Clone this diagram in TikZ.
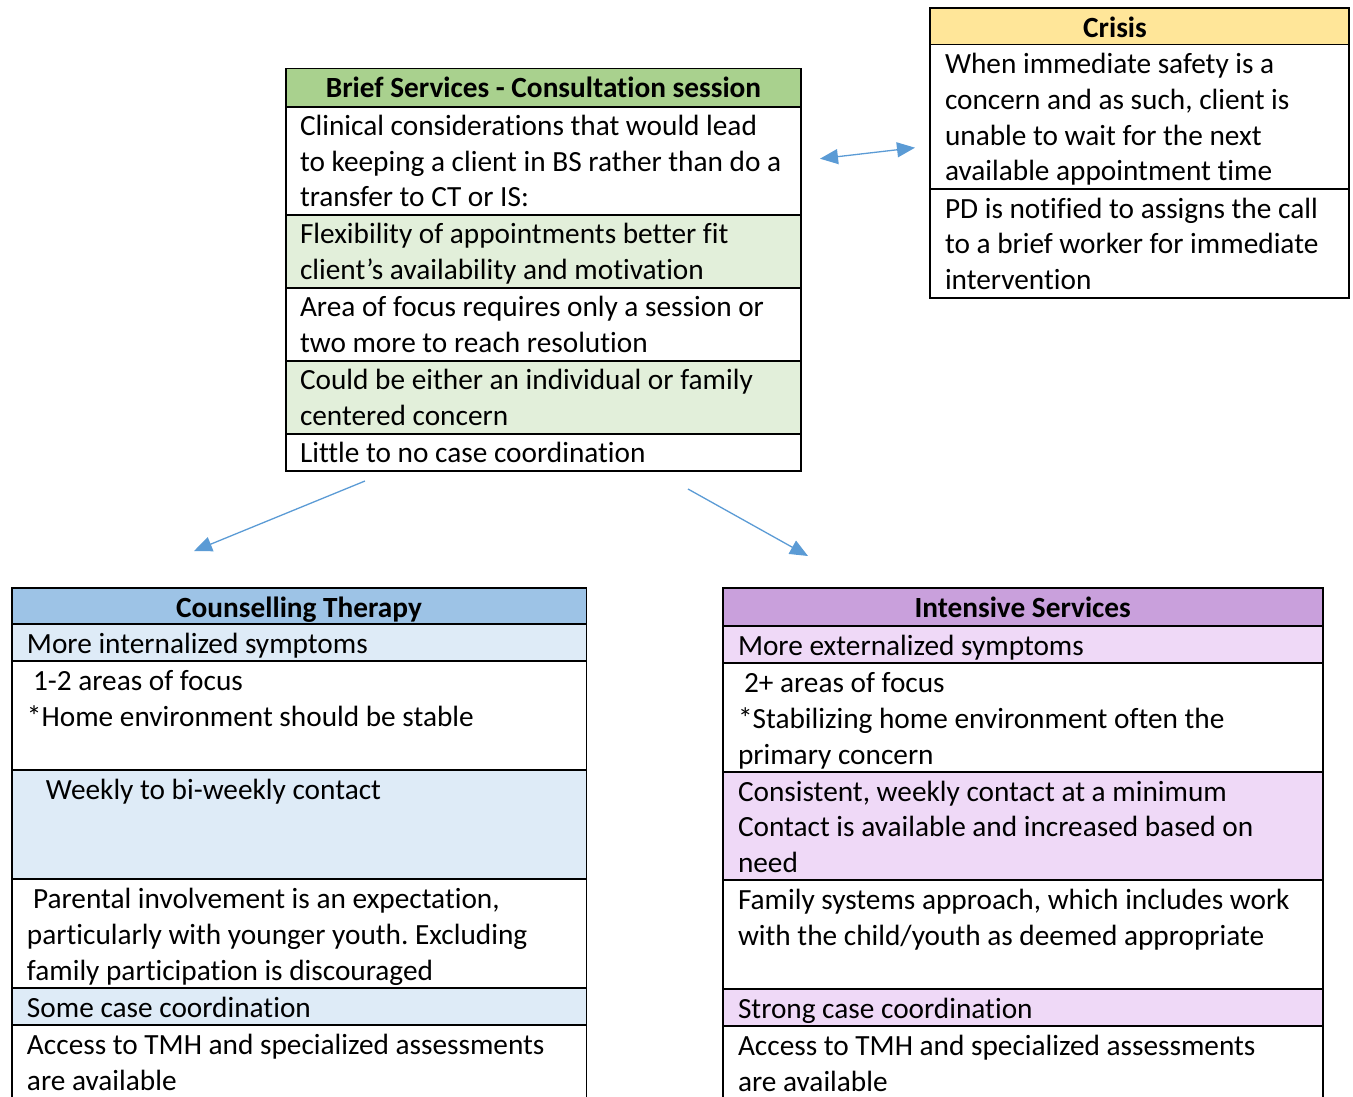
\documentclass[tikz,border=0pt]{standalone}
\usepackage{fontspec}
\setmainfont{Carlito}[Ligatures={NoCommon}]
\usetikzlibrary{arrows.meta}
\definecolor{bsHead}{HTML}{A9D18E}
\definecolor{bsLight}{HTML}{E2EFDA}
\definecolor{crHead}{HTML}{FFE699}
\definecolor{ctHead}{HTML}{9DC3E6}
\definecolor{ctLight}{HTML}{DEEBF7}
\definecolor{isHead}{HTML}{C9A0DC}
\definecolor{isLight}{HTML}{EFD9F7}
\definecolor{arrowBlue}{HTML}{5B9BD5}
\newcommand\tstrut{\rule{0pt}{22pt}}
\newcommand\cell[6]{\node[cellbox, fill=#2, minimum width={(#5-#3)*1pt}, minimum height={(#6-#4)*1pt}] (#1) at (#3,#4) {};}
\newcommand\ctext[4]{\node[txt] (#1) at (#2,#3-19.5) {\tstrut #4};}
\frenchspacing
\begin{document}
\begin{tikzpicture}[x=1pt,y=-1pt,
  cellbox/.style={draw, line width=1.8pt, inner sep=0pt, outer sep=0pt, anchor=north west},
  txt/.style={anchor=north west, inner sep=0pt, outer sep=0pt, align=left, font=\fontsize{29.3}{35.8}\selectfont\frenchspacing},
  headtxt/.style={anchor=base, inner sep=0pt, font=\fontsize{29.3}{35.8}\selectfont\bfseries},
  link/.style={draw=arrowBlue, line width=1.3pt, -{Triangle[length=18pt,width=15pt]}},
  dlink/.style={draw=arrowBlue, line width=1.3pt, {Triangle[length=18pt,width=15pt]}-{Triangle[length=18pt,width=15pt]}},
]
\useasboundingbox (0,0) rectangle (1353,1096);
\clip (0,0) rectangle (1353,1096);

% ---------- Brief Services ----------
\cell{bsH}{bsHead}{286}{68.5}{801}{106.7}
\cell{bs1}{white}{286}{106.7}{801}{215}
\cell{bs2}{bsLight}{286}{215}{801}{288}
\cell{bs3}{white}{286}{288}{801}{361}
\cell{bs4}{bsLight}{286}{361}{801}{434}
\cell{bs5}{white}{286}{434}{801}{470.7}
\node[headtxt] (bsHT) at (543.5,97.5) {Brief Services - Consultation session};
\ctext{bsT1}{300}{132.7}{Clinical considerations that would lead\\to keeping a client in BS rather than do a\\transfer to CT or IS:}
\ctext{bsT2}{300}{241}{Flexibility of appointments better fit\\client’s availability and motivation}
\ctext{bsT3}{300}{314}{Area of focus requires only a session or\\two more to reach resolution}
\ctext{bsT4}{300}{387}{Could be either an individual or family\\centered concern}
\ctext{bsT5}{300}{460}{Little to no case coordination}

% ---------- Crisis ----------
\cell{crH}{crHead}{930}{8}{1349}{44.5}
\cell{cr1}{white}{930}{44.5}{1349}{189}
\cell{cr2}{white}{930}{189}{1349}{298}
\node[headtxt] (crHT) at (1115,37) {Crisis};
\ctext{crT1}{945}{71}{When immediate safety is a\\concern and as such, client is\\unable to wait for the next\\available appointment time}
\ctext{crT2}{945}{215.5}{PD is notified to assigns the call\\to a brief worker for immediate\\intervention}

% ---------- Counselling Therapy ----------
\cell{ctH}{ctHead}{12}{588}{586.5}{624}
\cell{ct1}{ctLight}{12}{624}{586.5}{661}
\cell{ct2}{white}{12}{661}{586.5}{770}
\cell{ct3}{ctLight}{12}{770}{586.5}{879}
\cell{ct4}{white}{12}{879}{586.5}{988}
\cell{ct5}{ctLight}{12}{988}{586.5}{1025}
\cell{ct6}{white}{12}{1025}{586.5}{1115}
\node[headtxt] (ctHT) at (299,617) {Counselling Therapy};
\ctext{ctT1}{27}{651}{More internalized symptoms}
\ctext{ctT2}{27}{688}{\hspace*{6pt}1-2 areas of focus\\*Home environment should be stable}
\ctext{ctT3}{27}{797}{\hspace*{19pt}Weekly to bi-weekly contact}
\ctext{ctT4}{27}{906}{\hspace*{6pt}Parental involvement is an expectation,\\particularly with younger youth. Excluding\\family participation is discouraged}
\ctext{ctT5}{27}{1015}{Some case coordination}
\ctext{ctT6}{27}{1052}{Access to TMH and specialized assessments\\are available}

% ---------- Intensive Services ----------
\cell{isH}{isHead}{722.7}{588.3}{1322.7}{625.7}
\cell{is1}{isLight}{722.7}{625.7}{1322.7}{663}
\cell{is2}{white}{722.7}{663}{1322.7}{772}
\cell{is3}{isLight}{722.7}{772}{1322.7}{880}
\cell{is4}{white}{722.7}{880}{1322.7}{989}
\cell{is5}{isLight}{722.7}{989}{1322.7}{1026}
\cell{is6}{white}{722.7}{1026}{1322.7}{1115}
\node[headtxt] (isHT) at (1022.7,617.5) {Intensive Services};
\ctext{isT1}{738}{652.5}{More externalized symptoms}
\ctext{isT2}{738}{690}{\hspace*{6pt}2+ areas of focus\\*Stabilizing home environment often the\\primary concern}
\ctext{isT3}{738}{798.5}{Consistent, weekly contact at a minimum\\Contact is available and increased based on\\need}
\ctext{isT4}{738}{907}{Family systems approach, which includes work\\with the child/youth as deemed appropriate}
\ctext{isT5}{738}{1016}{Strong case coordination}
\ctext{isT6}{738}{1053}{Access to TMH and specialized assessments\\are available}

% ---------- Connectors ----------
\coordinate (dA) at (820,158.7);
\coordinate (dB) at (915,147.7);
\coordinate (lS) at (365,481);
\coordinate (lE) at (194,551);
\coordinate (rS) at (688,489);
\coordinate (rE) at (808,556);
\draw[dlink] (dA) -- (dB);
\draw[link] (lS) -- (lE);
\draw[link] (rS) -- (rE);
\end{tikzpicture}
\end{document}
